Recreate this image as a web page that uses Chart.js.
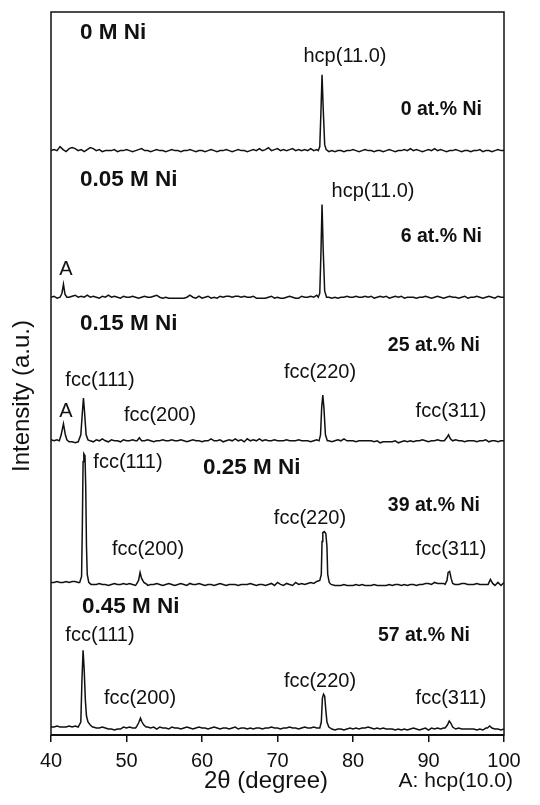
<!DOCTYPE html>
<html>
<head>
<meta charset="utf-8">
<script src="https://cdn.jsdelivr.net/npm/chart.js@4.4.1/dist/chart.umd.min.js"></script>
<style>
  html, body { margin: 0; padding: 0; background: #fff; }
  canvas { display: block; }
</style>
</head>
<body>
<canvas id="xrd" width="540" height="805"></canvas>
<script>
// 2θ sampling of the background scans
const angleStart = 40;
const angleStep = 0.4;
const xTicks = [40, 50, 60, 70, 80, 90, 100];

// vertical stacking offset of each pattern (intensity units)
const offsets = [584, 437, 293, 149, 5];

// background intensity, 40.0° ... 100.0° in 0.4° steps
const bg0M = [
  2, 3, 2, 6, 3, 1, 4, 5, 4, 2,
  3, 1, 3, 5, 4, 2, 3, 1, 2, 2,
  2, 3, 1, 2, 2, 3, 2, 1, 2, 3,
  4, 2, 2, 1, 2, 3, 2, 2, 1, 2,
  3, 2, 2, 1, 2, 2, 3, 2, 1, 2,
  2, 1, 2, 3, 2, 1, 2, 2, 3, 2,
  1, 2, 3, 2, 2, 1, 2, 3, 2, 4,
  2, 3, 5, 2, 3, 4, 2, 3, 2, 3,
  4, 2, 3, 2, 3, 2, 4, 2, 3, 3,
  3, 3, 1, 2, 1, 2, 2, 1, 2, 2,
  3, 2, 1, 2, 3, 2, 2, 1, 2, 2,
  1, 2, 3, 2, 1, 2, 2, 3, 2, 4,
  2, 3, 2, 1, 2, 3, 2, 4, 2, 3,
  2, 1, 2, 2, 3, 2, 1, 2, 2, 1,
  2, 2, 3, 1, 2, 2, 1, 2, 3, 2,
  2
];
const bg005M = [
  2, 3, 1, 2, 3, 1, 2, 3, 4, 2,
  3, 2, 4, 2, 3, 2, 1, 3, 2, 4,
  2, 3, 2, 1, 3, 2, 2, 3, 2, 1,
  2, 3, 2, 2, 3, 4, 2, 1, 2, 1,
  1, 1, 1, 1, 1, 2, 4, 2, 1, 3,
  1, 2, 3, 1, 2, 1, 3, 2, 3, 3,
  2, 3, 3, 2, 3, 2, 2, 3, 1, 1,
  1, 1, 2, 3, 1, 2, 1, 1, 2, 3,
  2, 1, 1, 3, 2, 2, 3, 2, 4, 4,
  3, 3, 2, 1, 2, 1, 2, 2, 3, 2,
  2, 3, 2, 2, 3, 2, 3, 1, 2, 3,
  2, 3, 1, 2, 3, 2, 3, 1, 2, 2,
  2, 1, 2, 2, 3, 2, 1, 2, 3, 2,
  1, 2, 3, 2, 2, 1, 2, 3, 1, 2,
  2, 3, 2, 1, 2, 3, 2, 1, 3, 2,
  2
];
const bg015M = [
  3, 2, 3, 2, 2, 2, 1, 1, 0, 1,
  2, 2, 2, 2, 1, 3, 2, 4, 2, 1,
  3, 2, 2, 1, 3, 2, 2, 3, 2, 3,
  2, 2, 3, 2, 1, 2, 2, 3, 2, 2,
  3, 2, 2, 3, 2, 1, 2, 3, 2, 2,
  1, 2, 2, 4, 2, 2, 3, 1, 2, 3,
  2, 4, 2, 3, 1, 4, 2, 3, 2, 4,
  2, 3, 2, 2, 3, 2, 2, 2, 3, 2,
  2, 2, 3, 2, 2, 2, 1, 2, 3, 2,
  2, 2, 2, 1, 2, 3, 2, 4, 2, 2,
  2, 1, 2, 2, 2, 2, 2, 1, 2, 0,
  1, 1, 1, 1, 2, 0, 1, 2, 1, 2,
  1, 2, 2, 3, 2, 1, 2, 2, 3, 2,
  2, 3, 2, 2, 3, 2, 2, 1, 2, 2,
  2, 1, 2, 2, 3, 1, 2, 2, 1, 2,
  2
];
const bg025M = [
  4, 4, 5, 4, 4, 5, 4, 5, 5, 4,
  5, 5, 5, 3, 2, 2, 3, 2, 2, 1,
  2, 3, 2, 2, 3, 2, 3, 2, 1, 2,
  3, 2, 1, 2, 2, 3, 2, 1, 2, 3,
  2, 1, 2, 3, 2, 1, 3, 2, 2, 3,
  2, 1, 2, 2, 1, 2, 3, 2, 1, 2,
  2, 2, 1, 2, 2, 2, 3, 2, 1, 2,
  2, 1, 2, 3, 1, 4, 2, 1, 3, 2,
  1, 4, 2, 3, 2, 3, 4, 3, 5, 6,
  6, 5, 4, 2, 1, 1, 1, 2, 1, 1,
  1, 2, 1, 2, 1, 1, 1, 2, 1, 1,
  1, 1, 2, 1, 2, 2, 1, 2, 1, 2,
  2, 1, 2, 2, 3, 3, 2, 4, 3, 3,
  3, 4, 4, 3, 2, 2, 3, 3, 2, 2,
  2, 3, 2, 2, 2, 1, 3, 1, 4, 1,
  4
];
const bg045M = [
  3, 3, 4, 3, 3, 3, 4, 3, 4, 3,
  3, 3, 3, 3, 3, 2, 2, 3, 2, 1,
  1, 0, 1, 1, 3, 2, 3, 2, 2, 3,
  3, 3, 3, 2, 3, 1, 3, 2, 2, 1,
  3, 2, 2, 1, 2, 3, 2, 1, 2, 3,
  2, 2, 1, 2, 3, 2, 1, 2, 2, 1,
  2, 3, 1, 2, 2, 1, 2, 1, 2, 2,
  1, 2, 2, 3, 2, 2, 1, 2, 2, 3,
  2, 2, 1, 2, 3, 2, 2, 3, 2, 3,
  2, 2, 2, 1, 0, 1, 1, 0, 1, 2,
  1, 2, 1, 2, 2, 3, 2, 1, 2, 1,
  2, 1, 1, 1, 0, 1, 0, 1, 0, 1,
  2, 1, 0, 1, 2, 0, 2, 1, 2, 1,
  2, 1, 3, 2, 1, 2, 1, 1, 1, 1,
  1, 0, 1, 0, 2, 0, 1, 1, 1, 0,
  1
];

// reflection profiles: [2θ, intensity]
const peaks0M = [
  [[75.4, 2], [75.6, 6], [75.75, 40], [75.9, 78], [76.05, 45], [76.25, 8], [76.45, 3]]
];
const peaks005M = [
  [[41.2, 2], [41.45, 6], [41.65, 15], [41.85, 5], [42.1, 2]],
  [[75.4, 2], [75.6, 6], [75.75, 45], [75.9, 95], [76.05, 50], [76.25, 8], [76.5, 2]]
];
const peaks015M = [
  [[41.1, 2], [41.35, 8], [41.65, 19], [41.9, 8], [42.1, 3], [42.4, 1]],
  [[43.7, 1], [43.95, 8], [44.15, 30], [44.3, 45], [44.45, 30], [44.65, 8], [44.9, 3]],
  [[51.4, 2], [51.7, 5], [52.0, 2]],
  [[75.5, 2], [75.7, 8], [75.85, 35], [76.0, 48], [76.15, 35], [76.35, 8], [76.6, 2]],
  [[92.1, 2], [92.4, 5], [92.65, 8], [92.9, 4], [93.2, 2]]
];
const peaks025M = [
  [[43.8, 4], [44.05, 10], [44.15, 60], [44.25, 125], [44.35, 133], [44.5, 131], [44.6, 100], [44.7, 40], [44.8, 12], [45.0, 4], [45.3, 2]],
  [[51.3, 2], [51.6, 6], [51.8, 14], [52.0, 8], [52.3, 4], [52.7, 2]],
  [[75.6, 6], [75.8, 12], [75.9, 45], [76.0, 54], [76.2, 55], [76.4, 53], [76.55, 40], [76.65, 12], [76.85, 4], [77.1, 2]],
  [[92.2, 2], [92.45, 6], [92.6, 14], [92.8, 15], [93.0, 8], [93.2, 3], [93.5, 2]],
  [[97.9, 2], [98.2, 7], [98.5, 3]]
];
const peaks045M = [
  [[43.7, 3], [43.95, 8], [44.1, 50], [44.25, 80], [44.4, 60], [44.55, 30], [44.7, 14], [44.9, 8], [45.2, 5], [45.5, 3]],
  [[51.3, 3], [51.6, 7], [51.85, 12], [52.05, 8], [52.3, 5], [52.6, 3]],
  [[75.6, 2], [75.8, 8], [75.95, 32], [76.1, 36], [76.25, 34], [76.4, 20], [76.55, 8], [76.8, 3]],
  [[92.2, 2], [92.5, 5], [92.75, 9], [92.95, 7], [93.2, 3]],
  [[97.8, 2], [98.1, 4], [98.4, 2]]
];

const backgrounds = [bg0M, bg005M, bg015M, bg025M, bg045M];
const reflections = [peaks0M, peaks005M, peaks015M, peaks025M, peaks045M];

// text placed in the plot: [text, 2θ, height, align, weight, size]
const plotLabels = [
  ['0 M Ni', 43.84, 704, 'left', 'bold', 22.5],
  ['hcp(11.0)', 78.94, 680, 'center', 'normal', 20],
  ['0 at.% Ni', 97.09, 627, 'right', 'bold', 19.5],
  ['0.05 M Ni', 43.84, 557, 'left', 'bold', 22.5],
  ['hcp(11.0)', 82.65, 545, 'center', 'normal', 20],
  ['6 at.% Ni', 97.09, 500, 'right', 'bold', 19.5],
  ['A', 41.99, 467, 'center', 'normal', 20],
  ['0.15 M Ni', 43.84, 412, 'left', 'bold', 22.5],
  ['25 at.% Ni', 96.82, 390, 'right', 'bold', 19.5],
  ['fcc(111)', 46.49, 355, 'center', 'normal', 20],
  ['fcc(220)', 75.63, 364, 'center', 'normal', 20],
  ['A', 41.99, 324, 'center', 'normal', 20],
  ['fcc(200)', 54.44, 320, 'center', 'normal', 20],
  ['fcc(311)', 92.98, 324, 'center', 'normal', 20],
  ['fcc(111)', 50.2, 273, 'center', 'normal', 20],
  ['0.25 M Ni', 60.13, 268, 'left', 'bold', 22.5],
  ['39 at.% Ni', 96.82, 230, 'right', 'bold', 19.5],
  ['fcc(220)', 74.3, 217, 'center', 'normal', 20],
  ['fcc(200)', 52.85, 186, 'center', 'normal', 20],
  ['fcc(311)', 92.98, 186, 'center', 'normal', 20],
  ['0.45 M Ni', 44.1, 129, 'left', 'bold', 22.5],
  ['fcc(111)', 46.49, 100, 'center', 'normal', 20],
  ['57 at.% Ni', 95.5, 100, 'right', 'bold', 19.5],
  ['fcc(220)', 75.63, 54, 'center', 'normal', 20],
  ['fcc(200)', 51.79, 37, 'center', 'normal', 20],
  ['fcc(311)', 92.98, 37, 'center', 'normal', 20]
];

const FONT = '"Liberation Sans", Arial, Helvetica, sans-serif';
const INK = '#111';

// merge background samples with the reflection profiles
function buildPattern(bg, peaks, offset) {
  const ranges = peaks.map(p => [p[0][0], p[p.length - 1][0]]);
  const pts = [];
  bg.forEach((v, i) => {
    const a = +(angleStart + i * angleStep).toFixed(2);
    if (!ranges.some(r => a >= r[0] && a <= r[1])) pts.push({ x: a, y: v + offset });
  });
  peaks.forEach(p => p.forEach(([a, v]) => pts.push({ x: a, y: v + offset })));
  pts.sort((p, q) => p.x - q.x);
  return pts;
}

const datasets = backgrounds.map((bg, k) => ({
  data: buildPattern(bg, reflections[k], offsets[k]),
  borderColor: INK,
  borderWidth: 1.5,
  pointRadius: 0,
  fill: false,
  tension: 0
}));

const decorations = {
  id: 'decorations',
  afterDraw(chart) {
    const { ctx, chartArea: a, scales: { x, y } } = chart;
    ctx.save();
    ctx.strokeStyle = INK;
    ctx.lineWidth = 1.5;
    ctx.strokeRect(a.left, a.top, a.right - a.left, a.bottom - a.top);
    ctx.lineWidth = 2;
    ctx.beginPath();
    ctx.moveTo(a.left, a.bottom);
    ctx.lineTo(a.right, a.bottom);
    ctx.stroke();

    ctx.fillStyle = INK;
    ctx.textBaseline = 'middle';
    plotLabels.forEach(([text, ang, h, align, weight, size]) => {
      ctx.font = `${weight} ${size}px ${FONT}`;
      ctx.textAlign = align;
      ctx.fillText(text, x.getPixelForValue(ang), y.getPixelForValue(h));
    });

    // axis titles and legend note
    ctx.font = `normal 24px ${FONT}`;
    ctx.textAlign = 'center';
    ctx.fillText('2θ (degree)', 266, 781);
    ctx.font = `normal 21px ${FONT}`;
    ctx.textAlign = 'right';
    ctx.fillText('A: hcp(10.0)', 513, 781);

    ctx.translate(22, 396);
    ctx.rotate(-Math.PI / 2);
    ctx.font = `normal 24px ${FONT}`;
    ctx.textAlign = 'center';
    ctx.fillText('Intensity (a.u.)', 0, 0);
    ctx.restore();
  }
};

new Chart(document.getElementById('xrd'), {
  type: 'line',
  data: { datasets },
  options: {
    responsive: false,
    animation: false,
    devicePixelRatio: 1,
    layout: { padding: { left: 51, right: 36, top: 12, bottom: 25 } },
    plugins: { legend: { display: false }, tooltip: { enabled: false } },
    scales: {
      x: {
        type: 'linear',
        min: 40,
        max: 100,
        afterBuildTicks(scale) { scale.ticks = xTicks.map(v => ({ value: v })); },
        ticks: { color: INK, font: { family: FONT, size: 20 }, padding: 7, maxRotation: 0 },
        grid: { drawOnChartArea: false, drawTicks: true, tickLength: 7, color: INK, lineWidth: 1.5 },
        border: { display: false }
      },
      y: {
        display: false,
        min: 0,
        max: 725
      }
    }
  },
  plugins: [decorations]
});
</script>
</body>
</html>
